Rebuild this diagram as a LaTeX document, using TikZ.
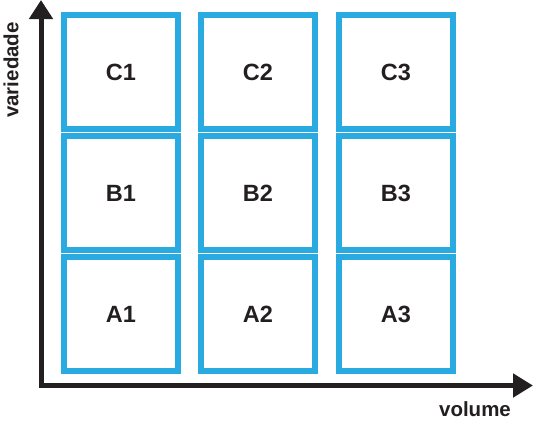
\documentclass[tikz,border=0pt]{standalone}
\usepackage{fontspec}
\setmainfont{Liberation Sans}
\usetikzlibrary{arrows.meta}
\definecolor{cellblue}{HTML}{29ABE2}
\definecolor{axisblack}{HTML}{231F20}
\begin{document}
\begin{tikzpicture}[x=1pt,y=-1pt,
  cell/.style={draw=cellblue, line width=6pt, minimum size=114pt, inner sep=0pt,
    font=\fontsize{23.5}{28}\selectfont\bfseries, text=axisblack},
  axislabel/.style={font=\fontsize{20.5}{24}\selectfont\bfseries, text=axisblack, inner sep=0pt},
  axisline/.style={draw=axisblack, line width=5pt, line join=miter,
    {Triangle[length=19pt,width=23pt]}-{Triangle[length=20pt,width=23pt]}}]
\useasboundingbox (0,0) rectangle (533,421);
\node[cell] (C1) at (121,72) {C1};
\node[cell] (C2) at (258,72) {C2};
\node[cell] (C3) at (396,72) {C3};
\node[cell] (B1) at (121,193) {B1};
\node[cell] (B2) at (258,193) {B2};
\node[cell] (B3) at (396,193) {B3};
\node[cell] (A1) at (121,314) {A1};
\node[cell] (A2) at (258,314) {A2};
\node[cell] (A3) at (396,314) {A3};
\coordinate (ytip) at (41,0);
\coordinate (origin) at (41,385.5);
\coordinate (xtip) at (533,385.5);
\draw[axisline] (ytip) -- (origin) -- (xtip);
\node[axislabel, rotate=90] (ylab) at (11,70) {variedade};
\node[axislabel] (xlab) at (475,409.5) {volume};
\end{tikzpicture}
\end{document}
